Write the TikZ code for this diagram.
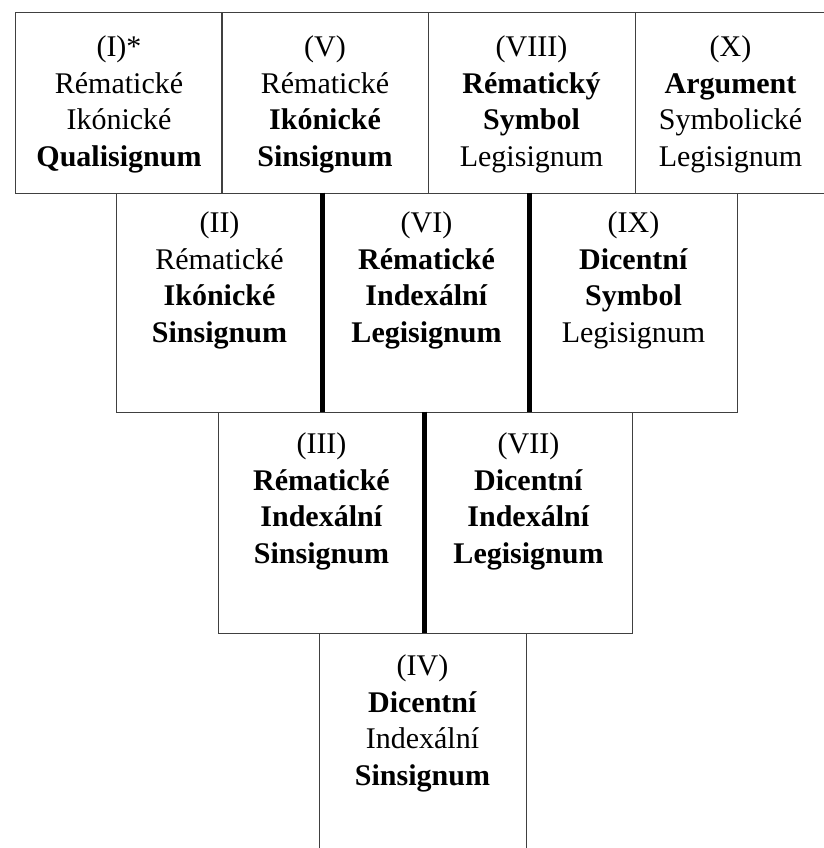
\documentclass[tikz,border=0pt]{standalone}
\usepackage{fontspec}
\setmainfont{Liberation Serif}
\usetikzlibrary{positioning}
\tikzset{
    cell/.style={
        draw=black!75,
        line width=0.7pt,
        minimum width=207pt,
        inner sep=0pt},
    sign/.style={
        anchor=north,
        align=center,
        inner sep=0pt,
        font=\fontsize{30}{36.5}\selectfont},
    split/.style={
        line width=5pt}}

\begin{document}
\begin{tikzpicture}
        \useasboundingbox (0,0) rectangle (823pt,-848pt);

        \node[cell, minimum height=181pt] (c1) at (119pt,-102.5pt) {};
        \node[cell, minimum height=181pt] (c5) at (325pt,-102.5pt) {};
        \node[cell, minimum height=181pt] (c8) at (531.5pt,-102.5pt) {};
        \node[cell, minimum height=181pt, minimum width=191pt] (c10) at (730.5pt,-102.5pt) {};

        \node[cell, minimum height=219pt] (c2) at (219.5pt,-302.5pt) {};
        \node[cell, minimum height=219pt] (c6) at (426.5pt,-302.5pt) {};
        \node[cell, minimum height=219pt] (c9) at (633.5pt,-302.5pt) {};

        \node[cell, minimum height=221pt] (c3) at (321.5pt,-522.5pt) {};
        \node[cell, minimum height=221pt] (c7) at (528.5pt,-522.5pt) {};

        \node[cell, minimum height=225pt] (c4) at (422.5pt,-745.5pt) {};

        \node[sign, below=24pt of c1.north] (t1) {(I)*\\Rématické\\Ikónické\\\textbf{Qualisignum}};
        \node[sign, below=24pt of c5.north] (t5) {(V)\\Rématické\\\textbf{Ikónické}\\\textbf{Sinsignum}};
        \node[sign, below=24pt of c8.north] (t8) {(VIII)\\\textbf{Rématický}\\\textbf{Symbol}\\Legisignum};
        \node[sign, below=24pt of c10.north] (t10) {(X)\\\textbf{Argument}\\Symbolické\\Legisignum};

        \node[sign, below=19pt of c2.north] (t2) {(II)\\Rématické\\\textbf{Ikónické}\\\textbf{Sinsignum}};
        \node[sign, below=19pt of c6.north] (t6) {(VI)\\\textbf{Rématické}\\\textbf{Indexální}\\\textbf{Legisignum}};
        \node[sign, below=19pt of c9.north] (t9) {(IX)\\\textbf{Dicentní}\\\textbf{Symbol}\\Legisignum};

        \node[sign, below=21pt of c3.north] (t3) {(III)\\\textbf{Rématické}\\\textbf{Indexální}\\\textbf{Sinsignum}};
        \node[sign, below=21pt of c7.north] (t7) {(VII)\\\textbf{Dicentní}\\\textbf{Indexální}\\\textbf{Legisignum}};

        \node[sign, below=22pt of c4.north] (t4) {(IV)\\\textbf{Dicentní}\\Indexální\\\textbf{Sinsignum}};

        \draw[split] (c6.north west) -- (c6.south west);
        \draw[split] (c9.north west) -- (c9.south west);
        \draw[split] (c7.north west) -- (c7.south west);
    \end{tikzpicture}
\end{document}
